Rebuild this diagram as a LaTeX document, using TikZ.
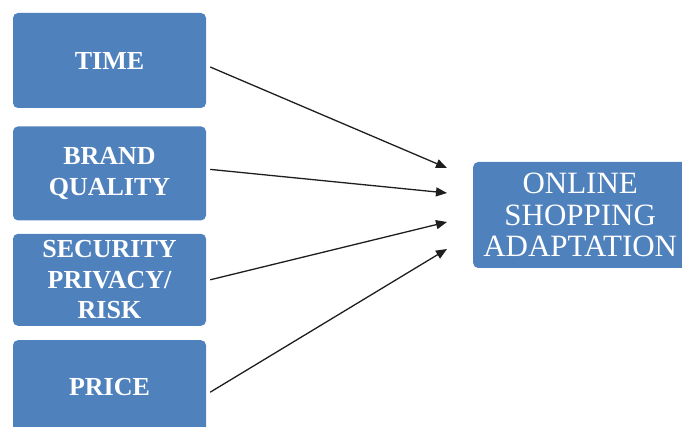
\documentclass[tikz,border=0pt]{standalone}
\usepackage{fontspec}
\setmainfont{Liberation Serif}
\usepackage{xcolor}
\definecolor{boxblue}{RGB}{79,129,189}
\definecolor{darkgray}{RGB}{30,30,30}
\usepackage{tikz}
\usetikzlibrary{arrows.meta, positioning}

\begin{document}
\begin{tikzpicture}[
      factor/.style={rectangle, rounded corners=5pt, fill=boxblue, text=white, align=center, minimum width=193pt, minimum height=94pt, inner sep=0pt, font=\fontsize{26}{30.5}\selectfont\bfseries},
      outcome/.style={rectangle, rounded corners=5pt, fill=boxblue, text=white, align=center, minimum width=214pt, minimum height=106pt, inner sep=0pt, font=\fontsize{31}{31.5}\selectfont},
      edge/.style={-{Triangle[length=11pt, width=9pt]}, line width=1.3pt, darkgray},
    ]
    \useasboundingbox (0,0) rectangle (682pt,-427pt);
    \node[factor, minimum height=95pt] (time) at (109.5pt,-60.5pt) {TIME};
    \node[factor, below=18pt of time] (brand) {BRAND\\QUALITY};
    \node[factor, minimum height=92pt, below=13pt of brand] (security) {SECURITY\\PRIVACY/\\RISK};
    \node[factor, below=14pt of security] (price) {PRICE};
    \node[outcome, anchor=west] (adopt) at (473pt,-215pt) {ONLINE\\SHOPPING\\ADAPTATION};

    \coordinate (in1) at ([xshift=-26pt, yshift=47pt]adopt.west);
    \coordinate (in2) at ([xshift=-26pt, yshift=22pt]adopt.west);
    \coordinate (in3) at ([xshift=-26pt, yshift=-7pt]adopt.west);
    \coordinate (in4) at ([xshift=-26pt, yshift=-34pt]adopt.west);

    \draw[edge] ([xshift=4pt, yshift=-6.5pt]time.east) -- (in1);
    \draw[edge] ([xshift=4pt, yshift=4pt]brand.east) -- (in2);
    \draw[edge] ([xshift=4pt]security.east) -- (in3);
    \draw[edge] ([xshift=4pt, yshift=-5pt]price.east) -- (in4);
  \end{tikzpicture}
\end{document}
